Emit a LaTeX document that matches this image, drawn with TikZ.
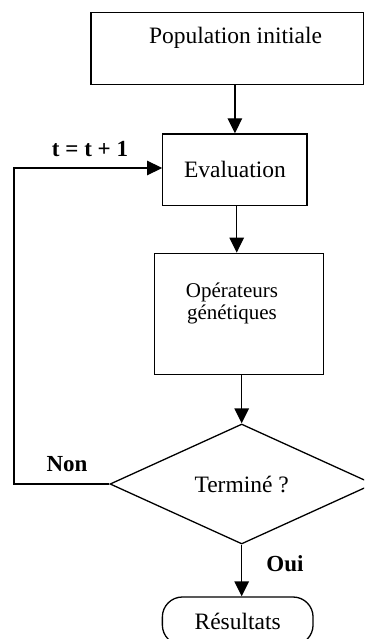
\documentclass[tikz,border=0pt]{standalone}
\usepackage{fontspec}
\setmainfont{Liberation Serif}
\usetikzlibrary{arrows.meta,shapes.geometric}
\begin{document}
\begin{tikzpicture}[x=1pt,y=-1pt,
  line width=1.3pt,
  box/.style={draw, rectangle, inner sep=0pt},
  txt/.style={font=\fontsize{23.5}{28}\selectfont, inner sep=0pt},
  small/.style={font=\fontsize{21}{22}\selectfont, inner sep=0pt, align=center},
  lbl/.style={font=\fontsize{23}{28}\selectfont\bfseries, inner sep=0pt, anchor=base},
  arr/.style={-{Triangle[length=15pt,width=14.5pt]}},
]
\useasboundingbox (0,0) rectangle (364,639);
\clip (0,0) rectangle (364,639);

% process boxes
\node[box, minimum width=272.5pt, minimum height=72pt] (pop) at (227.3,48.3) {};
\node[txt, anchor=base] (poptxt) at (235.5,44) {Population initiale};
\node[box, txt, minimum width=144.3pt, minimum height=71.5pt] (eval) at (234.9,169.7) {Evaluation};
\node[box, minimum width=169pt, minimum height=121pt] (ops) at (238.8,313.8) {};
\node[small] (opstxt) at (232,303.8) {Opérateurs\\génétiques};

% decision and terminal
\node[draw, diamond, txt, minimum width=263.4pt, minimum height=120pt] (term) at (241.7,484) {Terminé ?};
\node[draw, rectangle, rounded corners=20pt, txt, minimum width=150.7pt, minimum height=48pt] (res) at (237.7,621) {Résultats};

% bold labels
\node[lbl] (tlbl) at (90,157) {t = t + 1};
\node[lbl] (non) at (67,471.7) {Non};
\node[lbl] (oui) at (285,571.7) {Oui};

% connectors
\draw[arr] (pop.south -| eval.north) -- (eval.north);
\draw[arr] ([xshift=1.8pt]eval.south) -- ([xshift=1.8pt]eval.south |- ops.north);
\draw[arr] (ops.south -| term.north) -- (term.north);
\draw[arr] (term.south) -- (term.south |- res.north);
\coordinate (loop) at (14,168);
\draw[arr] (term.west) -| (loop) -- (loop -| eval.west);
\end{tikzpicture}
\end{document}
